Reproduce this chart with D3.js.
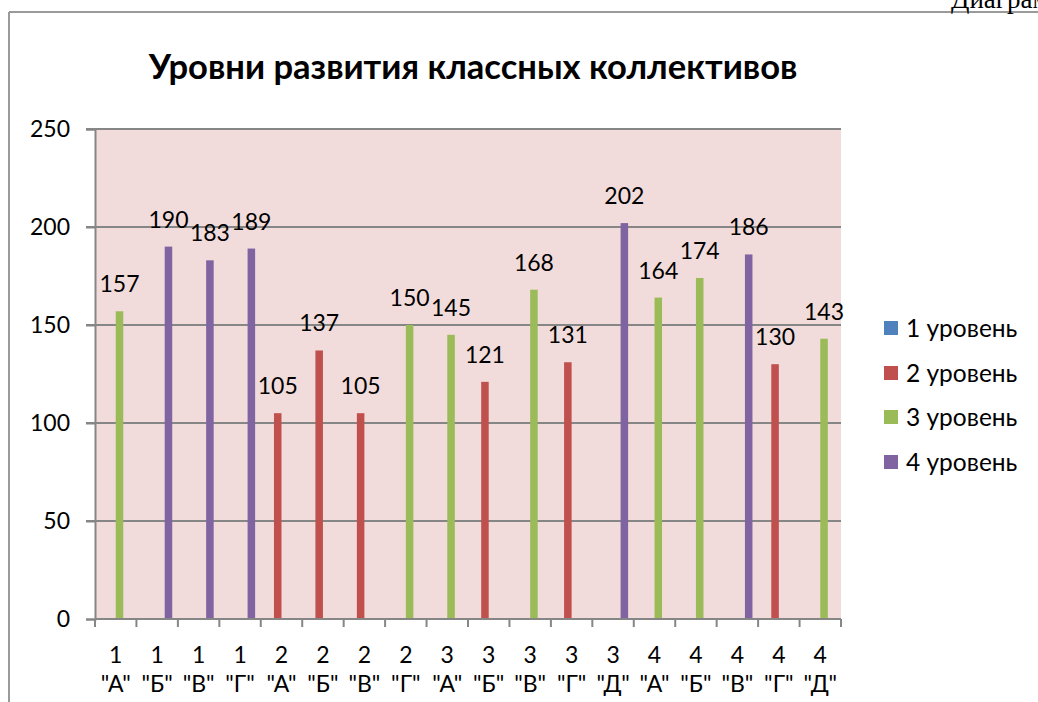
<!DOCTYPE html>
<html><head><meta charset="utf-8">
<script src="https://cdn.jsdelivr.net/npm/d3@7"></script>
<style>
html,body{margin:0;padding:0;background:#fff;overflow:hidden}
text{font-family:Lato,"Open Sans",sans-serif}
</style></head>
<body>
<svg id="c" width="1038" height="702"></svg>
<script>
const grades = ["1","1","1","1","2","2","2","2","3","3","3","3","3","4","4","4","4","4"];
const letters = ['"А"','"Б"','"В"','"Г"','"А"','"Б"','"В"','"Г"','"А"','"Б"','"В"','"Г"','"Д"','"А"','"Б"','"В"','"Г"','"Д"'];
const seriesNames = ["1 уровень","2 уровень","3 уровень","4 уровень"];
const level1 = [null,null,null,null,null,null,null,null,null,null,null,null,null,null,null,null,null,null];
const level2 = [null,null,null,null,105,137,105,null,null,121,null,131,null,null,null,null,130,null];
const level3 = [157,null,null,null,null,null,null,150,145,null,168,null,null,164,174,null,null,143];
const level4 = [null,190,183,189,null,null,null,null,null,null,null,null,202,null,null,186,null,null];
const yTicks = [0,50,100,150,200,250];
const colors = ["#4f81bd","#c0504d","#9bbb59","#8064a2"];
const title = "Уровни развития классных коллективов";

const seriesVals = [level1, level2, level3, level4];
const cats = grades.map((g,i)=>i);

const svg = d3.select("#c");
const L = 95, R = 841, T = 129, B = 619;

// outer frame
svg.append("line").attr("x1",9).attr("x2",1038).attr("y1",12).attr("y2",12).attr("stroke","#9a9a9a").attr("stroke-width",2);
svg.append("line").attr("x1",9).attr("x2",9).attr("y1",12).attr("y2",702).attr("stroke","#9a9a9a").attr("stroke-width",2);
svg.append("text").attr("x",951).attr("y",8).style("font-family","'Liberation Serif',serif").attr("font-size",27).text("Диаграмма");

const x0 = d3.scaleBand().domain(cats).range([L,R]).padding(0);
const gw = x0.bandwidth();
const bw = gw/5.5;
const x1 = d3.scaleBand().domain(d3.range(4)).range([-2*bw, 2*bw]).padding(0);
const y = d3.scaleLinear().domain([0,250]).range([B,T]);

svg.append("rect").attr("x",L).attr("y",T).attr("width",R-L).attr("height",B-T).attr("fill","#f2dcdb");

// gridlines
svg.append("g").selectAll("line").data(yTicks.filter(d=>d>0)).join("line")
  .attr("x1",86).attr("x2",R).attr("y1",d=>y(d)).attr("y2",d=>y(d))
  .attr("stroke","#868686").attr("stroke-width",2);

// y axis
const yAxis = d3.axisLeft(y).tickValues(yTicks).tickSize(9).tickPadding(16);
const gy = svg.append("g").attr("transform",`translate(${L},0)`).call(yAxis);
gy.select(".domain").attr("stroke","#868686").attr("stroke-width",2);
gy.selectAll(".tick line").attr("stroke","#868686").attr("stroke-width",2);
gy.selectAll(".tick text").attr("font-size",23).attr("fill","#000").style("font-family","Lato,sans-serif");

// bars
const gBars = svg.append("g");
seriesVals.forEach((vals,s)=>{
  gBars.append("g").selectAll("rect").data(vals.map((v,i)=>({v,i})).filter(d=>d.v!=null)).join("rect")
    .attr("x",d=>x0(d.i)+gw/2+x1(s))
    .attr("width",x1.bandwidth())
    .attr("y",d=>y(d.v))
    .attr("height",d=>y(0)-y(d.v))
    .attr("fill",colors[s]);
  gBars.append("g").selectAll("text").data(vals.map((v,i)=>({v,i})).filter(d=>d.v!=null)).join("text")
    .attr("x",d=>x0(d.i)+gw/2+x1(s)+x1.bandwidth()/2)
    .attr("y",d=>y(d.v)-19)
    .attr("text-anchor","middle").attr("font-size",23).attr("fill","#000")
    .text(d=>d.v);
});

// x axis
const gx = svg.append("g").attr("transform",`translate(0,${B})`);
gx.append("line").attr("x1",L).attr("x2",R).attr("y1",0).attr("y2",0).attr("stroke","#868686").attr("stroke-width",2);
const bounds = cats.map(c=>x0(c)).concat([R]);
gx.selectAll("line.t").data(bounds).join("line").attr("class","t")
  .attr("x1",d=>d).attr("x2",d=>d).attr("y1",0).attr("y2",8).attr("stroke","#868686").attr("stroke-width",2);
gx.selectAll("text.g").data(cats).join("text").attr("class","g")
  .attr("x",d=>x0(d)+gw/2).attr("y",44).attr("text-anchor","middle").attr("font-size",23).text(d=>grades[d]);
gx.selectAll("text.l").data(cats).join("text").attr("class","l")
  .attr("x",d=>x0(d)+gw/2).attr("y",73).attr("text-anchor","middle").attr("font-size",23).text(d=>letters[d]);

// title
const tt = svg.append("text").attr("x",473).attr("y",79).attr("text-anchor","middle")
  .attr("font-weight","bold").attr("font-size",30).text(title);
const w = tt.node().getComputedTextLength();
tt.attr("font-size",30*649/w);

// legend
const leg = svg.append("g");
const ly = [328,373,417,462];
seriesNames.forEach((n,i)=>{
  leg.append("rect").attr("x",884).attr("y",ly[i]-7).attr("width",14).attr("height",14).attr("fill",colors[i]);
  leg.append("text").attr("x",906).attr("y",ly[i]).attr("dy","0.35em").attr("font-size",24.5).text(n);
});
</script>
</body></html>
